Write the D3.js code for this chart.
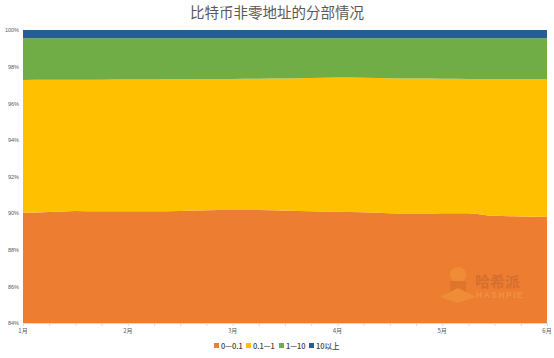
<!DOCTYPE html>
<html><head><meta charset="utf-8">
<script src="https://cdn.jsdelivr.net/npm/d3@7"></script>
<style>body{margin:0;background:#fff}svg{display:block}</style>
</head><body><svg id="c" width="554" height="358"></svg>
<script>
const weeks = d3.range(21);
const monthLabels = ["1月","2月","3月","4月","5月","6月"];
const monthIdx = [0,4,8,12,16,20];
const seriesNames = ["0—0.1","0.1—1","1—10","10以上"];
const s0 = [90.02,90.06,90.12,90.10,90.10,90.10,90.12,90.16,90.17,90.17,90.14,90.10,90.08,90.05,90.00,89.98,90.00,90.00,89.85,89.82,89.80];
const s1 = [7.25,7.22,7.17,7.19,7.20,7.20,7.19,7.16,7.16,7.17,7.21,7.28,7.32,7.34,7.37,7.37,7.34,7.33,7.48,7.50,7.52];
const s2 = [2.28,2.27,2.26,2.26,2.25,2.25,2.24,2.23,2.22,2.21,2.20,2.17,2.15,2.16,2.18,2.20,2.21,2.22,2.22,2.23,2.23];
const s3 = [0.45,0.45,0.45,0.45,0.45,0.45,0.45,0.45,0.45,0.45,0.45,0.45,0.45,0.45,0.45,0.45,0.45,0.45,0.45,0.45,0.45];
const yTicks = [84,86,88,90,92,94,96,98,100];
const colors = ["#ED7D31","#FFC000","#70AD47","#255E91"];

const rows = weeks.map(i => ({i, a:s0[i], b:s1[i], c:s2[i], d:s3[i]}));
const stack = d3.stack().keys(["a","b","c","d"]);
const layers = stack(rows);

const svg = d3.select("#c");
const L = 23, R = 547, T = 30, B = 323;
const x = d3.scaleLinear().domain([0,20]).range([L,R]);
const y = d3.scaleLinear().domain([84,100]).range([B,T]);

svg.append("text").attr("x",277).attr("y",18).attr("text-anchor","middle")
  .attr("font-family","'Noto Sans CJK SC',sans-serif").attr("font-size",14.5).attr("font-weight",400)
  .attr("fill","#595959").text("比特币非零地址的分部情况");

const defs = svg.append("defs");
defs.append("clipPath").attr("id","clip").append("rect")
  .attr("x",L).attr("y",T).attr("width",R-L).attr("height",B-T);

const area = d3.area().x(d=>x(d.data.i)).y0(d=>y(Math.max(84,d[0]))).y1(d=>y(d[1])).curve(d3.curveMonotoneX);
svg.append("g").attr("clip-path","url(#clip)").selectAll("path").data(layers).join("path")
  .attr("d",area).attr("fill",(d,k)=>colors[k]);

// axes
const ya = svg.append("g").attr("transform",`translate(${L},0)`)
  .call(d3.axisLeft(y).tickValues(yTicks).tickSize(0).tickPadding(4).tickFormat(d=>d+"%"));
ya.select(".domain").remove();
ya.selectAll("text").attr("font-family","'Liberation Sans',sans-serif").attr("font-size",5.5).attr("fill","#595959");

const xa = svg.append("g").attr("transform",`translate(0,${B})`)
  .call(d3.axisBottom(x).tickValues(weeks).tickSize(3).tickFormat(""));
xa.select(".domain").attr("stroke","#d9d9d9");
xa.selectAll(".tick line").attr("stroke","#d9d9d9");
const xl = svg.append("g");
xl.selectAll("text").data(monthIdx).join("text")
  .attr("x",d=>x(d)).attr("y",333).attr("text-anchor","middle")
  .attr("font-family","'Noto Sans CJK SC',sans-serif").attr("font-size",6)
  .attr("fill","#595959").text((d,k)=>monthLabels[k]);

// watermark
const wm = svg.append("g").attr("opacity",0.3);
wm.append("circle").attr("cx",458).attr("cy",275).attr("r",8).attr("fill","#F5B041");
wm.append("rect").attr("x",450).attr("y",281).attr("width",16).attr("height",14).attr("fill","#C0621F");
wm.append("path").attr("d","M440,297 L458,288 L476,297 L458,303 Z").attr("fill","#F5B041");
wm.append("text").attr("x",475).attr("y",287).attr("font-family","'Noto Sans CJK SC',sans-serif")
  .attr("font-weight","bold").attr("font-size",15).attr("fill","#A0522D").text("哈希派");
wm.append("text").attr("x",476).attr("y",298).attr("font-family","'Liberation Sans',sans-serif")
  .attr("font-weight","bold").attr("font-size",8.5).attr("letter-spacing",1.5).attr("fill","#F5C27A").text("HASHPIE");

// legend
const lg = svg.append("g").attr("font-family","'Noto Sans CJK SC',sans-serif").attr("font-size",7.5)
  .attr("font-weight",500).attr("fill","#404040");
const lx = [214, 246, 279, 309];
seriesNames.forEach((n,k)=>{
  lg.append("rect").attr("x",lx[k]).attr("y",343).attr("width",5).attr("height",5).attr("fill",colors[k]);
  lg.append("text").attr("x",lx[k]+7).attr("y",348.5).text(n);
});
</script></body></html>
